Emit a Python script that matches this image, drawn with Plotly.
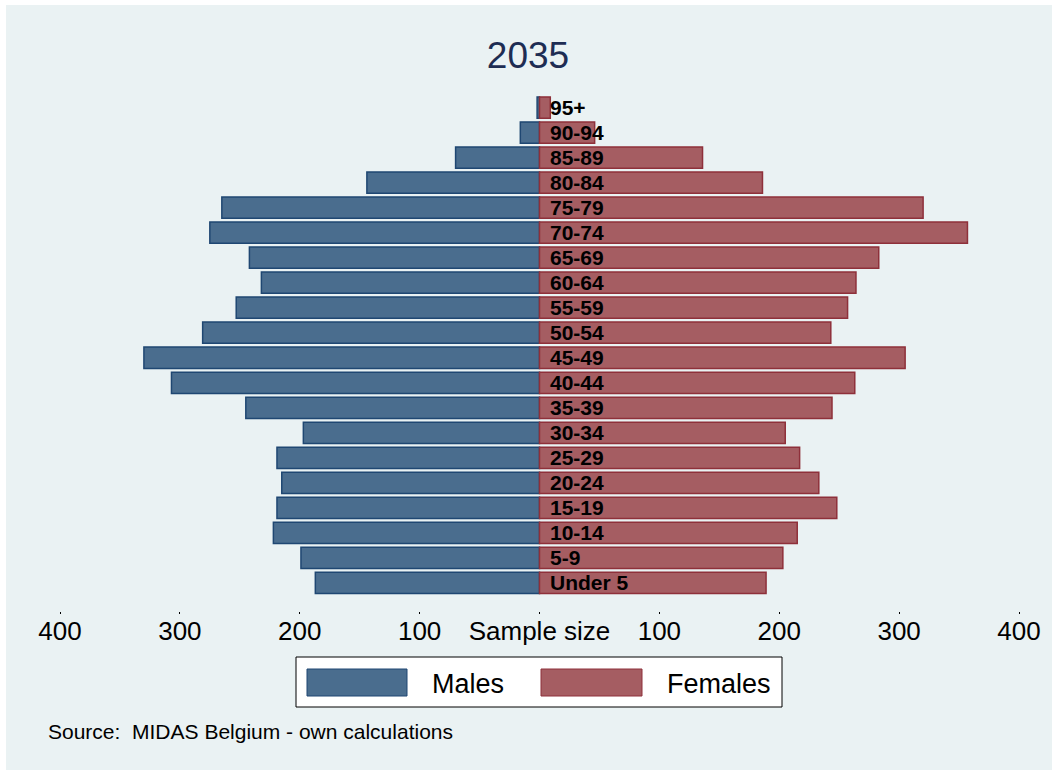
import plotly.graph_objects as go

# ---- data ----
age_groups = ["Under 5", "5-9", "10-14", "15-19", "20-24", "25-29", "30-34", "35-39",
              "40-44", "45-49", "50-54", "55-59", "60-64", "65-69", "70-74", "75-79",
              "80-84", "85-89", "90-94", "95+"]
males = [187, 199, 222, 219, 215, 219, 197, 245, 307, 330, 281, 253, 232, 242, 275, 265,
         144, 70, 16, 2]
females = [189, 203, 215, 248, 233, 217, 205, 244, 263, 305, 243, 257, 264, 283, 357, 320,
           186, 136, 46, 9]
tick_vals = [-400, -300, -200, -100, 0, 100, 200, 300, 400]
tick_text = ["400", "300", "200", "100", "Sample size", "100", "200", "300", "400"]

# ---- layout geometry ----
W, H = 1056, 773
ML, MR, MT, MB = 60, 37, 95, 162
PW, PH = W - ML - MR, H - MT - MB


def pxx(x):
    return (x - ML) / PW


def pxy(y):
    return (H - MB - y) / PH


BG = "#EAF2F3"
MALE_FILL, MALE_LINE = "#4A6D8E", "#1F4772"
FEM_FILL, FEM_LINE = "#A55D62", "#8E303A"
SANS = "Liberation Sans, Arial, sans-serif"

fig = go.Figure()
fig.add_trace(go.Bar(
    y=age_groups, x=[-v for v in males], orientation="h", name="Males",
    marker=dict(color=MALE_FILL, line=dict(color=MALE_LINE, width=1.5)),
    customdata=males, hovertemplate="%{y}: %{customdata}<extra>Males</extra>",
))
fig.add_trace(go.Bar(
    y=age_groups, x=females, orientation="h", name="Females",
    marker=dict(color=FEM_FILL, line=dict(color=FEM_LINE, width=1.5)),
    hovertemplate="%{y}: %{x}<extra>Females</extra>",
))

shapes = [
    dict(type="rect", xref="paper", yref="paper", layer="below",
         x0=pxx(6), x1=pxx(1052), y0=pxy(5), y1=pxy(770),
         fillcolor=BG, line=dict(width=0)),
    # legend box
    dict(type="rect", xref="paper", yref="paper",
         x0=pxx(296), x1=pxx(782), y0=pxy(657), y1=pxy(707),
         fillcolor="white", line=dict(color="black", width=1)),
    dict(type="rect", xref="paper", yref="paper",
         x0=pxx(307), x1=pxx(407), y0=pxy(669), y1=pxy(696),
         fillcolor=MALE_FILL, line=dict(color=MALE_LINE, width=1)),
    dict(type="rect", xref="paper", yref="paper",
         x0=pxx(541), x1=pxx(642), y0=pxy(669), y1=pxy(696),
         fillcolor=FEM_FILL, line=dict(color=FEM_LINE, width=1)),
]

annotations = [
    dict(text="<b>%s</b>" % g, x=0, y=g, xref="x", yref="y", xanchor="left",
         yanchor="middle", xshift=8, showarrow=False,
         font=dict(family=SANS, size=21, color="black"))
    for g in age_groups
]
annotations += [
    dict(text="Males", xref="paper", yref="paper", x=pxx(430), y=pxy(684),
         xanchor="left", yanchor="middle", showarrow=False,
         font=dict(family=SANS, size=27, color="black")),
    dict(text="Females", xref="paper", yref="paper", x=pxx(665), y=pxy(684),
         xanchor="left", yanchor="middle", showarrow=False,
         font=dict(family=SANS, size=27, color="black")),
    dict(text="Source:  MIDAS Belgium - own calculations", xref="paper", yref="paper",
         x=pxx(46), y=pxy(731), xanchor="left", yanchor="middle", showarrow=False,
         font=dict(family=SANS, size=21, color="black")),
]

fig.update_layout(
    width=W, height=H, autosize=False,
    margin=dict(l=ML, r=MR, t=MT, b=MB),
    paper_bgcolor="white", plot_bgcolor=BG,
    barmode="relative", bargap=0.15, showlegend=False,
    title=dict(text="2035", x=0.5, xanchor="center", y=1 - 55 / H, yanchor="middle",
               font=dict(family=SANS, size=37, color="#1E2D53")),
    xaxis=dict(range=[-400, 400], tickvals=tick_vals, ticktext=tick_text,
               ticks="outside", ticklen=2, tickcolor="black", tickwidth=1,
               ticklabelstandoff=-5,
               showgrid=False, zeroline=False, showline=False, fixedrange=True,
               tickfont=dict(family=SANS, size=26, color="black")),
    yaxis=dict(categoryorder="array", categoryarray=age_groups,
               range=[-1.12, 19.5], showticklabels=False, ticks="",
               showgrid=False, zeroline=False, showline=False, fixedrange=True),
    shapes=shapes, annotations=annotations,
)

fig.write_html("out.html", config={"displayModeBar": False},
               post_script="document.body.style.margin='0';")
